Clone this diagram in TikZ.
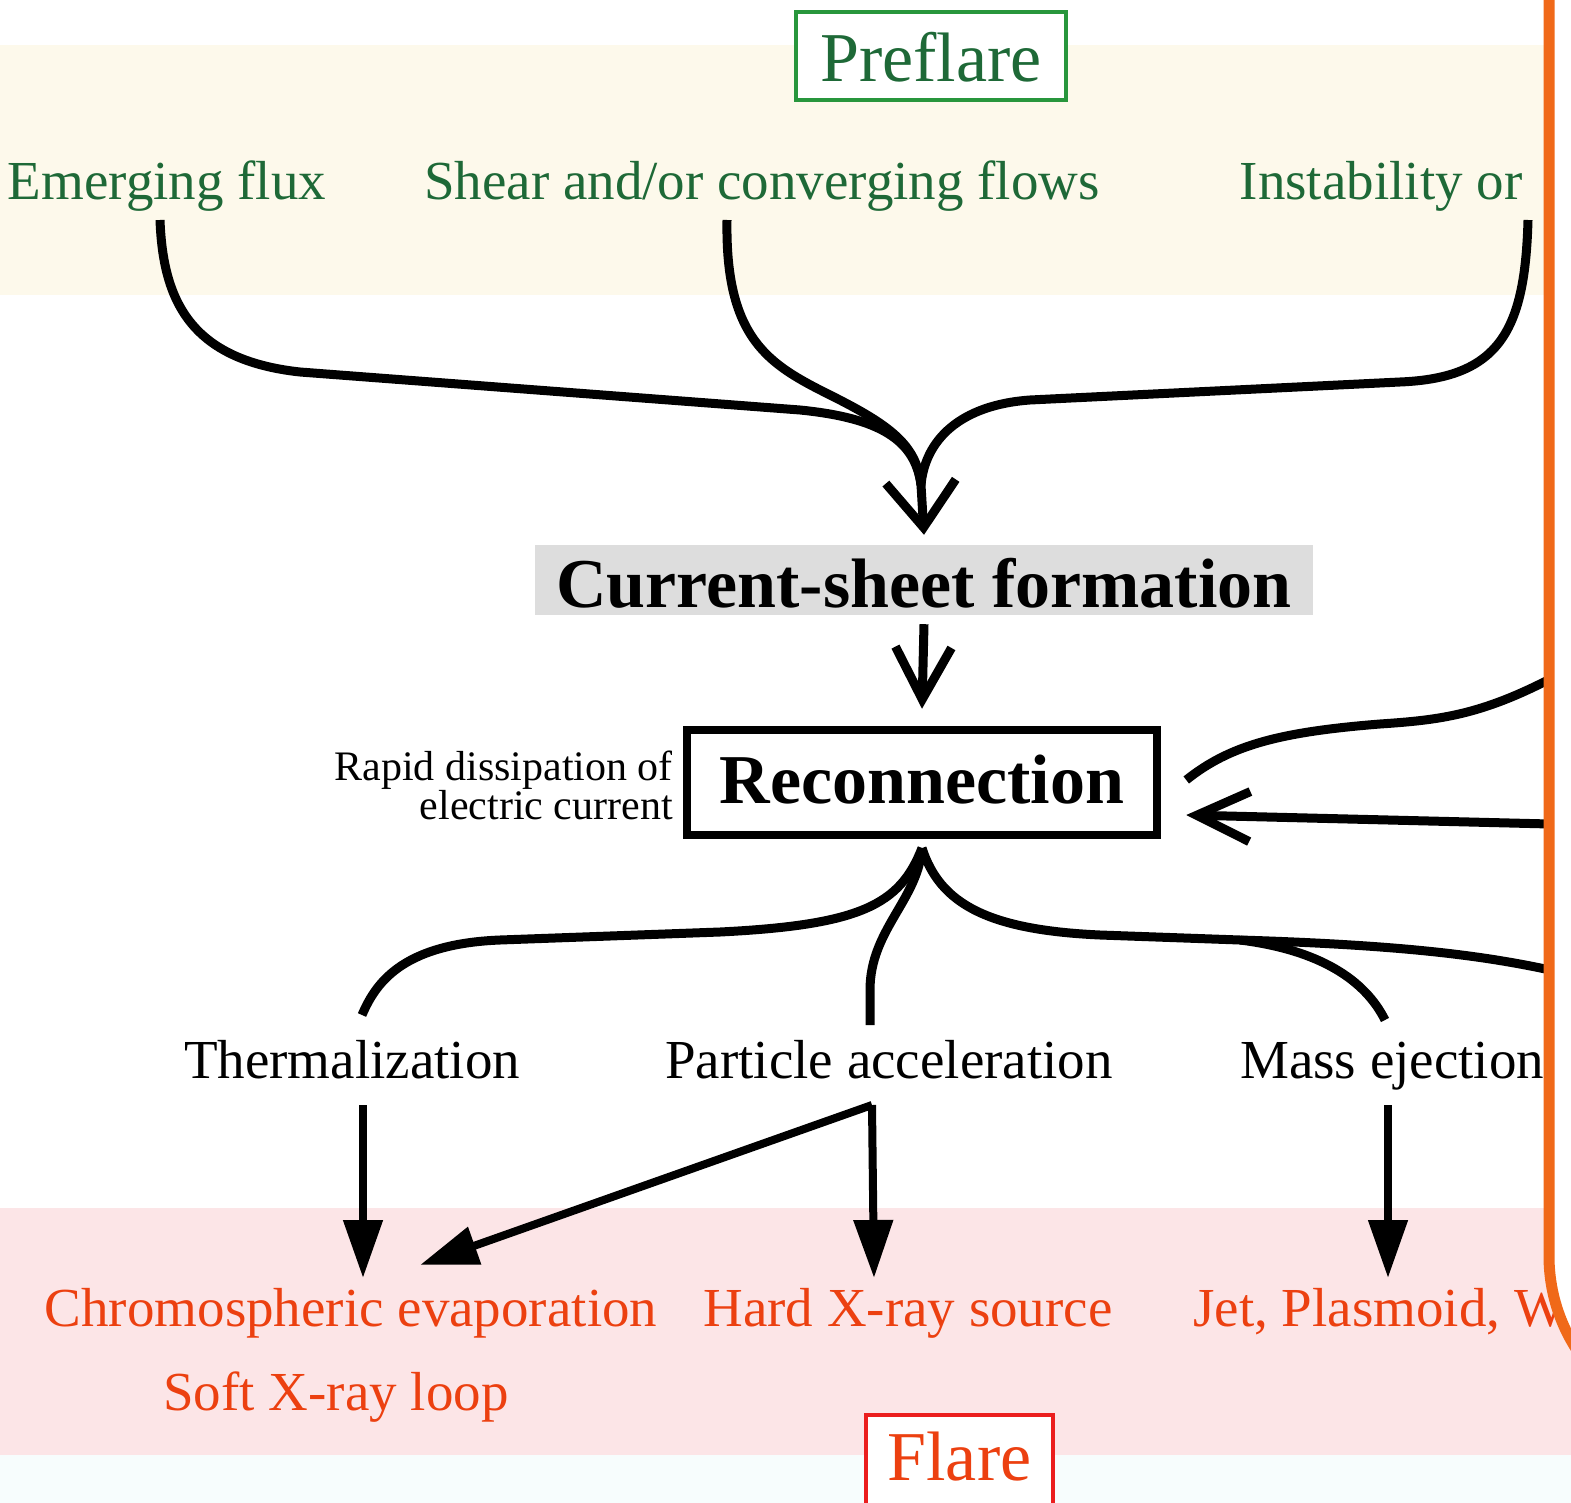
\documentclass[tikz,border=0pt]{standalone}
\usepackage{fontspec}
\setmainfont{Liberation Serif}
\usetikzlibrary{arrows.meta,calc}
\definecolor{cream}{RGB}{253,249,235}
\definecolor{pinkband}{RGB}{252,229,231}
\definecolor{bluish}{RGB}{247,253,253}
\definecolor{greybox}{RGB}{221,221,221}
\definecolor{dkgreen}{RGB}{30,105,55}
\definecolor{greenbox}{RGB}{40,150,60}
\definecolor{redtxt}{RGB}{236,64,16}
\definecolor{redbox}{RGB}{235,30,30}
\definecolor{orng}{RGB}{240,105,25}
\begin{document}
\begin{tikzpicture}[x=1pt,y=-1pt,
  lbl/.style={inner sep=0pt, anchor=base, font=\fontsize{55}{60}\selectfont},
  glbl/.style={lbl, text=dkgreen},
  rlbl/.style={lbl, text=redtxt},
  flow/.style={line width=9pt},
  openarr/.style={line width=9pt, -{Straight Barb[length=46pt,width=70pt]}},
  openarrB/.style={line width=9pt, -{Straight Barb[length=52pt,width=56pt]}},
  solidarr/.style={line width=8pt, -{Triangle[length=58pt,width=38pt]}}]
\useasboundingbox (0,0) rectangle (1571,1503);
\clip (0,0) rectangle (1571,1503);
% bands
\fill[cream] (0,45) rectangle (1571,295);
\fill[pinkband] (0,1208) rectangle (1571,1455);
\fill[bluish] (0,1455) rectangle (1571,1503);
% title boxes
\node[draw=greenbox, line width=4pt, fill=white, minimum width=270pt, minimum height=88pt,
      text height=58pt, text depth=6pt, inner sep=0pt, text=dkgreen,
      font=\fontsize{70}{80}\selectfont] (pre) at (931,56) {Preflare};
\node[draw=redbox, line width=4pt, fill=white, minimum width=187pt, minimum height=103pt,
      text height=40pt, text depth=13pt, inner sep=0pt, text=redtxt,
      font=\fontsize{70}{80}\selectfont] (fl) at (959.5,1466.5) {Flare};
% top labels
\node[glbl] (ef) at (167,200) {Emerging flux};
\node[glbl] (sh) at (762,200) {Shear and/or converging flows};
\node[glbl] (ins) at (1381,200) {Instability or};
% central nodes
\node[fill=greybox, inner xsep=0pt, inner ysep=3pt, minimum width=778pt,
      text height=59pt, text depth=5pt, font=\bfseries\fontsize{70}{80}\selectfont] (cs) at (924,580) {Current-sheet formation};
\node[draw, line width=8.5pt, minimum width=470pt, minimum height=105pt, inner sep=0pt,
      text height=48pt, text depth=7pt, font=\bfseries\fontsize{70}{80}\selectfont] (rec) at (922,782.5) {Reconnection};
\node[anchor=east, align=right, inner sep=0pt, font=\fontsize{42}{38}\selectfont] (rapid) at (673,785)
      {Rapid dissipation of\\electric current};
% middle labels
\node[lbl] (th) at (352,1078) {Thermalization};
\node[lbl] (pa) at (889,1078) {Particle acceleration};
\node[lbl, anchor=base west] (me) at (1240,1078) {Mass ejection};
% bottom labels
\node[rlbl] (ce) at (351,1326) {Chromospheric evaporation};
\node[rlbl] (sx) at (336,1410) {Soft X-ray loop};
\node[rlbl] (hx) at (908,1326) {Hard X-ray source};
\node[rlbl, anchor=base west] (jet) at (1193,1326) {Jet, Plasmoid, W};
% coordinates
\coordinate (merge) at (921,485);
\coordinate (split) at (922,848);
\coordinate (fork) at (1240,940);
\coordinate (edgeA) at (1550,679);
\coordinate (edgeB) at (1550,824);
\coordinate (edgeC) at (1550,970);
% top flows
\draw[flow] ($(ef.base)+(-7,20)$) .. controls (163,300) and (190,360) .. (300,372)
   -- (800,410) .. controls (880,418) and (915,440) .. (merge);
\draw[flow] ($(sh.base)+(-35,20)$) .. controls (725,340) and (770,365) .. (830,395)
   .. controls (890,425) and (917,445) .. (merge);
\draw[flow] ($(ins.base)+(147,20)$) .. controls (1525,330) and (1500,378) .. (1400,382)
   -- (1030,400) .. controls (960,405) and (925,440) .. (merge);
\draw[openarr] (merge) -- ([yshift=10pt]cs.north);
\draw[openarrB] ([yshift=-9pt]cs.south) -- ([yshift=17pt]rec.north);
% right inputs
\draw[flow] (edgeA) .. controls (1480,715) and (1440,720) .. (1380,724)
   .. controls (1280,732) and (1230,745) .. ([xshift=25pt,yshift=2.5pt]rec.east);
\draw[line width=9pt, -{Straight Barb[length=53pt,width=50pt]}] (edgeB) -- ([xshift=25pt,yshift=-32.5pt]rec.east);
% bottom branches
\draw[flow] (split) .. controls (900,905) and (860,925) .. (720,932)
   -- (500,940) .. controls (400,944) and (375,985) .. ($(th.base)+(10,-63)$);
\draw[flow] (split) .. controls (918,900) and (870,930) .. (870,990) -- ($(pa.base)+(-19,-53)$);
\draw[flow] (split) .. controls (940,905) and (990,930) .. (1100,935) -- (fork)
   .. controls (1400,945) and (1480,955) .. (edgeC);
\draw[flow] (fork) .. controls (1320,950) and (1365,980) .. ($(me.base west)+(145,-58)$);
% bottom arrows
\draw[solidarr] ($(th.base)+(11,27)$) -- ($(th.base)+(11,200)$);
\draw[solidarr] ($(pa.base)+(-17,27)$) -- ($(pa.base)+(-15,200)$);
\draw[solidarr] ($(pa.base)+(-17,27)$) -- ($(ce.base)+(69,-61)$);
\draw[solidarr] ($(me.base west)+(148,27)$) -- ($(me.base west)+(148,200)$);
% overlay panel
\draw[line width=11pt, draw=orng, fill=white, rounded corners=172pt] (1549,-400) rectangle (2100,1428);
\end{tikzpicture}
\end{document}
